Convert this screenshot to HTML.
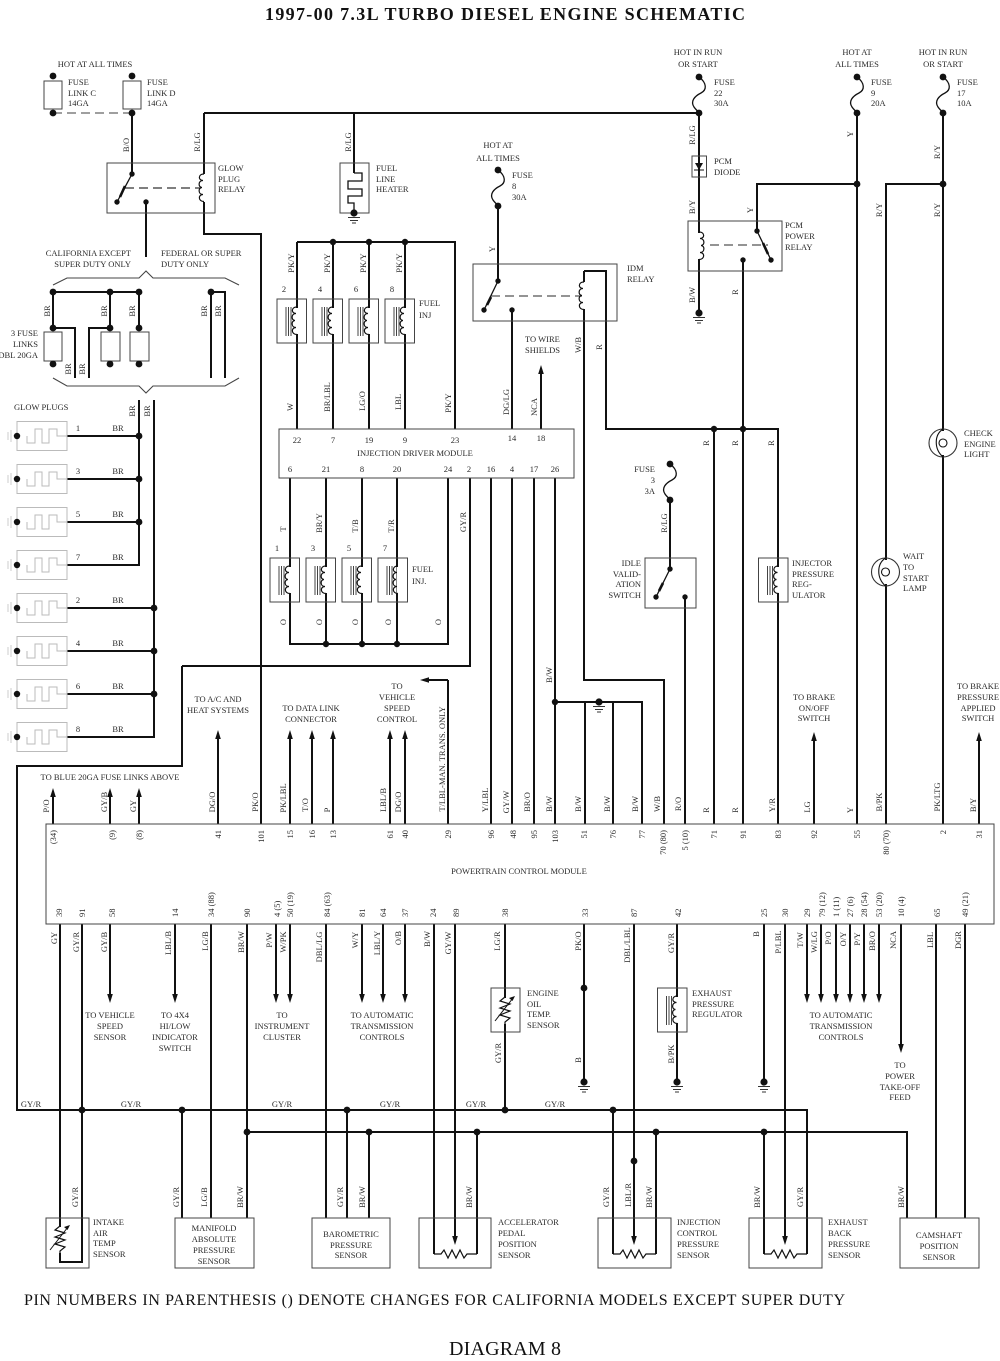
<!DOCTYPE html>
<html><head><meta charset="utf-8"><title>1997-00 7.3L Turbo Diesel Engine Schematic</title>
<style>
html,body{margin:0;padding:0;background:#fff}
svg{display:block}
text{font-family:"Liberation Serif",serif;font-size:8.5px;fill:#2a2a2a}
.c,.v{text-anchor:middle}
.e,.pt{text-anchor:end}
.w{fill:none;stroke:#111;stroke-width:2;stroke-linecap:butt;stroke-linejoin:miter}
.b{fill:none;stroke:#444;stroke-width:1}
.g{fill:none;stroke:#555;stroke-width:1.3}
.f{fill:none;stroke:#111;stroke-width:1.3}
</style></head><body>
<svg xmlns="http://www.w3.org/2000/svg" width="1000" height="1361" viewBox="0 0 1000 1361">
<defs>
<path id="au" d="M0 0l-2.8 9h5.6z" fill="#111"/>
<path id="ad" d="M0 0l-2.8-9h5.6z" fill="#111"/>
<g id="gnd"><circle r="3.6" fill="#111"/><path d="M-6 4.5h12M-4 7.5h8M-2 10h4" stroke="#333" stroke-width="1" fill="none"/></g>
<g id="fuse"><path class="f" d="M0 0C8 6 8 13 2 16C-4 19-9 24-5 30C-3 33-1 34 0 36"/><circle r="3.4" fill="#111"/><circle cy="36" r="3.4" fill="#111"/></g>
<path id="coilp" d="M0 0c-6 0-6 6.5-1 6.5c-5 0-5 7-1 7c-4 0-4 7 1 7c-5 0-5 7 1 7" fill="none" stroke="#111" stroke-width="1.2"/>
<g id="coil"><rect x="-1.5" y="1" width="3" height="26" fill="#fff"/><use href="#coilp"/></g>
<g id="inj"><rect width="29.5" height="44" fill="none" stroke="#444" stroke-width="1"/><path d="M9 8v29M11.5 8v29M14 8v29" stroke="#444" stroke-width="1" fill="none"/><use href="#coil" x="20" y="8"/></g>
<g id="plug"><rect x="17" y="-14.5" width="50" height="29" fill="none" stroke="#bbb" stroke-width="1"/><path d="M27 0v7h8v-14h7v14h7v-14h8v7h10" fill="none" stroke="#bbb" stroke-width="1"/><path d="M8-4v8M11-6v12" stroke="#ccc" stroke-width="1"/><circle cx="17" r="3.2" fill="#111"/></g>
<g id="lamp"><rect x="-2" y="-12" width="4" height="24" fill="#fff"/><circle r="14" fill="none" stroke="#333" stroke-width="1.1"/><path d="M0-14C-9-8-9 6 0 14" fill="none" stroke="#111" stroke-width="1.1"/><circle cx="0" r="4" fill="none" stroke="#111" stroke-width="1.1"/></g>
<path id="res" d="M0 0h7l3-4 4 8 4-8 4 8 4-8 4 8 3-4h10" fill="none" stroke="#111" stroke-width="1.2"/>
<g id="therm"><rect x="-1.5" y="1" width="3" height="26" fill="#fff"/><path d="M0 0l-5 4 10 3-10 4 10 3-10 4 10 3-5 4v3" fill="none" stroke="#111" stroke-width="1.2"/><path d="M-10 24L8 1" stroke="#111" stroke-width="1"/><path d="M10-1l-6 2 3.5 3z" fill="#111"/></g>
</defs>

<!-- wires -->
<path class="w" d="
M132 113V174
M204 113H699
M204 113V174M204 202V234H261V824
M146 202V257
M53 292H139M53 292V328M110 292V328M139 292V328M53 328H75V378M89 378V328H110
M211 292V378M211 292H225V378
M139 400V565H67M154 400V737H67
M67 436H139M67 479H139M67 522H139M67 608H154M67 651H154M67 694H154
M182 666V766H17V1110H807V1254
M182 666H470V478
M354 113V173
M297 242H455V429M297 242V429M333 242V429M369 242V429M405 242V429
M290 478V644H448V478M326 478V644M362 478V644M397 478V644
M491 478V824M512 478V824M534 478V824M555 478V824
M512 310V429M541 373V429
M498 206V281
M584 271V680H664V824
M584 271H606V429H778V824
M714 429V824M743 260V824
M555 702H642V824M585 702V824M613 702V824
M670 500V569M685 597V824
M699 113V315
M857 113V824M757 231V184H857
M943 113V824M943 184H886V824
M53 796V824M110 796V824M139 796V824
M218 738V824M290 738V824M312 738V824M333 738V824M390 738V824M405 738V824
M448 680V824M448 680H428
M814 740V824M979 740V824
M60 924V1218M82 924V1218
M60 1218V1262H82V1218
M110 924V995M175 924V995M276 924V995M290 924V995M362 924V995M383 924V995M405 924V995
M211 924V1218M247 924V1218M326 924V1218
M182 1110V1218M347 1110V1218M369 1132V1218
M434 924V1254M455 924V1238M477 1132V1254
M505 924V1110
M584 924V1082M677 924V1082M764 924V1082
M634 924V1238M613 1110V1254M656 1132V1254
M785 924V1238M764 1132V1254
M807 924V995M821 924V995M836 924V995M850 924V995M864 924V995M879 924V995M901 924V1045
M936 924V1218M965 924V1218
M247 1132H907V1218
"/>

<!-- dashed links -->
<path d="M53 113H132" stroke="#666" stroke-width="1.3" stroke-dasharray="9 5" fill="none"/>
<path d="M125 188H200" stroke="#333" stroke-width="1.2" stroke-dasharray="9 5" fill="none"/>
<path d="M491 296H582" stroke="#555" stroke-width="1.3" stroke-dasharray="9 5" fill="none"/>
<path d="M710 245H768" stroke="#555" stroke-width="1.3" stroke-dasharray="9 5" fill="none"/>

<!-- boxes -->
<rect class="b" x="44" y="81" width="18" height="28"/><rect class="b" x="123" y="81" width="18" height="28"/>
<rect class="b" x="44" y="332" width="18" height="29"/><rect class="b" x="101" y="332" width="19" height="29"/><rect class="b" x="130" y="332" width="19" height="29"/>
<rect class="b" x="107" y="163" width="108" height="50"/>
<rect class="b" x="340" y="163" width="29" height="50"/>
<rect class="b" x="473" y="264" width="144" height="57"/>
<rect class="b" x="692" y="156" width="14.5" height="21"/>
<rect class="b" x="688" y="221" width="94" height="50"/>
<rect class="b" x="279" y="429" width="295" height="49" fill="none"/>
<rect class="b" x="645" y="558" width="51" height="50"/>
<rect class="b" x="46" y="824" width="948" height="100"/>
<rect class="b" x="491" y="988" width="29" height="44"/>
<rect class="b" x="46" y="1218" width="43" height="50"/>
<rect class="b" x="175" y="1218" width="79" height="50"/>
<rect class="b" x="312" y="1218" width="78" height="50"/>
<rect class="b" x="419" y="1218" width="72" height="50"/>
<rect class="b" x="598" y="1218" width="73" height="50"/>
<rect class="b" x="749" y="1218" width="73" height="50"/>
<rect class="b" x="900" y="1218" width="79" height="50"/>

<!-- brackets -->
<path d="M53 285L67 278H139L146 271L153 278H225L239 285" fill="none" stroke="#444" stroke-width="1.1"/>
<path d="M53 378L67 386H139L146 393L153 386H225L239 378" fill="none" stroke="#444" stroke-width="1.1"/>

<!-- heater -->
<path d="M354 173h8v8h-14v8h14v7h-14v7h6v10" fill="none" stroke="#111" stroke-width="1.3"/>

<!-- relay switch arms -->
<path class="f" d="M132 174L117 202"/><path class="f" d="M498 281L484 310"/><path class="f" d="M757 231L771 260"/><path class="f" d="M670 569L656 597"/>
<path d="M125 186L120 197M491 297L487 305M763 243L768 254M663 583L659 591" stroke="#111" stroke-width="2.6" fill="none"/>

<!-- coils -->
<use href="#coil" x="204" y="174"/>
<rect x="582" y="282" width="4" height="27" fill="#fff"/><use href="#coilp" x="584" y="282"/>
<g transform="translate(699 232) scale(-1 1)"><use href="#coil"/></g>

<!-- diode -->
<path d="M695 163h8l-4 7z" fill="#111"/><path d="M694 170h10" stroke="#111" stroke-width="1"/>

<!-- injectors -->
<use href="#inj" x="277" y="299"/><use href="#inj" x="313" y="299"/><use href="#inj" x="349" y="299"/><use href="#inj" x="385" y="299"/>
<use href="#inj" x="270" y="558"/><use href="#inj" x="306" y="558"/><use href="#inj" x="342" y="558"/><use href="#inj" x="378" y="558"/>
<use href="#inj" x="758.500" y="558"/><use href="#inj" x="657.500" y="988"/>

<!-- glow plugs -->
<use href="#plug" y="436"/><use href="#plug" y="479"/><use href="#plug" y="522"/><use href="#plug" y="565"/><use href="#plug" y="608"/><use href="#plug" y="651"/><use href="#plug" y="694"/><use href="#plug" y="737"/>

<!-- fuses -->
<use href="#fuse" x="498" y="170"/><use href="#fuse" x="699" y="77"/><use href="#fuse" x="857" y="77"/><use href="#fuse" x="943" y="77"/><use href="#fuse" x="670" y="464"/>

<!-- lamps -->
<use href="#lamp" x="943" y="443"/><use href="#lamp" x="885.500" y="572"/>

<!-- thermistors / resistors -->
<use href="#therm" x="505" y="997"/><use href="#therm" x="60" y="1226"/>
<use href="#res" x="434" y="1254"/><use href="#res" x="613" y="1254"/><use href="#res" x="764" y="1254"/>

<!-- grounds -->
<use href="#gnd" x="354" y="213"/><use href="#gnd" x="699" y="313"/><use href="#gnd" x="599" y="702"/><use href="#gnd" x="584" y="1082"/><use href="#gnd" x="677" y="1082"/><use href="#gnd" x="764" y="1082"/>

<!-- arrows -->
<use href="#au" x="53" y="788"/><use href="#au" x="110" y="788"/><use href="#au" x="139" y="788"/>
<use href="#au" x="218" y="730"/><use href="#au" x="290" y="730"/><use href="#au" x="312" y="730"/><use href="#au" x="333" y="730"/><use href="#au" x="390" y="730"/><use href="#au" x="405" y="730"/>
<use href="#au" x="814" y="732"/><use href="#au" x="979" y="732"/><use href="#au" x="541" y="365"/>
<path d="M420 680l9-2.800v5.600z" fill="#111"/>
<use href="#ad" x="110" y="1003"/><use href="#ad" x="175" y="1003"/><use href="#ad" x="276" y="1003"/><use href="#ad" x="290" y="1003"/><use href="#ad" x="362" y="1003"/><use href="#ad" x="383" y="1003"/><use href="#ad" x="405" y="1003"/>
<use href="#ad" x="807" y="1003"/><use href="#ad" x="821" y="1003"/><use href="#ad" x="836" y="1003"/><use href="#ad" x="850" y="1003"/><use href="#ad" x="864" y="1003"/><use href="#ad" x="879" y="1003"/><use href="#ad" x="901" y="1053"/>
<use href="#ad" x="455" y="1245"/><use href="#ad" x="634" y="1245"/><use href="#ad" x="785" y="1245"/>

<!-- dots -->
<g fill="#111">
<circle cx="53" cy="76" r="3.4"/><circle cx="132" cy="76" r="3.4"/><circle cx="53" cy="113" r="3.4"/><circle cx="132" cy="113" r="3.4"/>
<circle cx="132" cy="174" r="2.7"/><circle cx="117" cy="202" r="2.7"/><circle cx="146" cy="202" r="2.7"/>
<circle cx="53" cy="292" r="3.4"/><circle cx="110" cy="292" r="3.4"/><circle cx="139" cy="292" r="3.4"/><circle cx="211" cy="292" r="3.4"/>
<circle cx="53" cy="328" r="3.4"/><circle cx="110" cy="328" r="3.4"/><circle cx="139" cy="328" r="3.4"/>
<circle cx="53" cy="364" r="3.4"/><circle cx="110" cy="364" r="3.4"/><circle cx="139" cy="364" r="3.4"/>
<circle cx="139" cy="436" r="3.4"/><circle cx="139" cy="479" r="3.4"/><circle cx="139" cy="522" r="3.4"/>
<circle cx="154" cy="608" r="3.4"/><circle cx="154" cy="651" r="3.4"/><circle cx="154" cy="694" r="3.4"/>
<circle cx="333" cy="242" r="3.2"/><circle cx="369" cy="242" r="3.2"/><circle cx="405" cy="242" r="3.2"/>
<circle cx="326" cy="644" r="3.2"/><circle cx="362" cy="644" r="3.2"/><circle cx="397" cy="644" r="3.2"/>
<circle cx="498" cy="281" r="2.7"/><circle cx="484" cy="310" r="2.7"/><circle cx="512" cy="310" r="2.7"/>
<circle cx="757" cy="231" r="2.7"/><circle cx="771" cy="260" r="2.7"/><circle cx="743" cy="260" r="2.7"/>
<circle cx="857" cy="184" r="3.4"/><circle cx="943" cy="184" r="3.4"/>
<circle cx="714" cy="429" r="3.2"/><circle cx="743" cy="429" r="3.2"/>
<circle cx="670" cy="569" r="2.7"/><circle cx="656" cy="597" r="2.7"/><circle cx="685" cy="597" r="2.7"/>
<circle cx="555" cy="702" r="3.2"/>
<circle cx="584" cy="988" r="3.4"/>
<circle cx="82" cy="1110" r="3.4"/><circle cx="182" cy="1110" r="3.4"/><circle cx="347" cy="1110" r="3.4"/><circle cx="505" cy="1110" r="3.4"/><circle cx="613" cy="1110" r="3.4"/>
<circle cx="247" cy="1132" r="3.4"/><circle cx="369" cy="1132" r="3.4"/><circle cx="477" cy="1132" r="3.4"/><circle cx="656" cy="1132" r="3.4"/><circle cx="764" cy="1132" r="3.4"/>
<circle cx="634" cy="1161" r="3.4"/>
</g>

<!-- headings -->
<text x="505" y="20" class="c" style="font-size:18px;font-weight:bold;fill:#111" textLength="480">1997-00 7.3L TURBO DIESEL ENGINE SCHEMATIC</text>
<text x="24" y="1305" style="font-size:16px;fill:#111" textLength="821">PIN NUMBERS IN PARENTHESIS () DENOTE CHANGES FOR CALIFORNIA MODELS EXCEPT SUPER DUTY</text>
<text x="449" y="1355" style="font-size:20px;fill:#111" textLength="112">DIAGRAM 8</text>

<!-- horizontal labels -->
<text x="95" y="67" class="c">HOT AT ALL TIMES</text>
<text x="68" y="85">FUSE</text><text x="68" y="96">LINK C</text><text x="68" y="106">14GA</text>
<text x="147" y="85">FUSE</text><text x="147" y="96">LINK D</text><text x="147" y="106">14GA</text>
<text x="218" y="171">GLOW</text><text x="218" y="182">PLUG</text><text x="218" y="192">RELAY</text>
<text x="376" y="171">FUEL</text><text x="376" y="182">LINE</text><text x="376" y="192">HEATER</text>
<text x="498" y="148" class="c">HOT AT</text><text x="498" y="161" class="c">ALL TIMES</text>
<text x="512" y="178">FUSE</text><text x="512" y="189">8</text><text x="512" y="200">30A</text>
<text x="627" y="271">IDM</text><text x="627" y="282">RELAY</text>
<text x="131" y="256" class="e">CALIFORNIA EXCEPT</text><text x="131" y="267" class="e">SUPER DUTY ONLY</text>
<text x="161" y="256">FEDERAL OR SUPER</text><text x="161" y="267">DUTY ONLY</text>
<text x="38" y="336" class="e">3 FUSE</text><text x="38" y="347" class="e">LINKS</text><text x="38" y="358" class="e">DBL 20GA</text>
<text x="14" y="410">GLOW PLUGS</text>
<text x="78" y="431" class="c">1</text><text x="78" y="474" class="c">3</text><text x="78" y="517" class="c">5</text><text x="78" y="560" class="c">7</text><text x="78" y="603" class="c">2</text><text x="78" y="646" class="c">4</text><text x="78" y="689" class="c">6</text><text x="78" y="732" class="c">8</text>
<text x="118" y="431" class="c">BR</text><text x="118" y="474" class="c">BR</text><text x="118" y="517" class="c">BR</text><text x="118" y="560" class="c">BR</text><text x="118" y="603" class="c">BR</text><text x="118" y="646" class="c">BR</text><text x="118" y="689" class="c">BR</text><text x="118" y="732" class="c">BR</text>
<text x="284" y="292" class="c">2</text><text x="320" y="292" class="c">4</text><text x="356" y="292" class="c">6</text><text x="392" y="292" class="c">8</text>
<text x="277" y="551" class="c">1</text><text x="313" y="551" class="c">3</text><text x="349" y="551" class="c">5</text><text x="385" y="551" class="c">7</text>
<text x="419" y="306">FUEL</text><text x="419" y="318">INJ</text>
<text x="412" y="572">FUEL</text><text x="412" y="584">INJ.</text>
<text x="525" y="342">TO WIRE</text><text x="525" y="353">SHIELDS</text>
<text x="415" y="456" class="c">INJECTION DRIVER MODULE</text>
<text x="297" y="443" class="c">22</text><text x="333" y="443" class="c">7</text><text x="369" y="443" class="c">19</text><text x="405" y="443" class="c">9</text><text x="455" y="443" class="c">23</text><text x="512" y="441" class="c">14</text><text x="541" y="441" class="c">18</text>
<text x="290" y="472" class="c">6</text><text x="326" y="472" class="c">21</text><text x="362" y="472" class="c">8</text><text x="397" y="472" class="c">20</text><text x="448" y="472" class="c">24</text><text x="469" y="472" class="c">2</text><text x="491" y="472" class="c">16</text><text x="512" y="472" class="c">4</text><text x="534" y="472" class="c">17</text><text x="555" y="472" class="c">26</text>
<text x="698" y="55" class="c">HOT IN RUN</text><text x="698" y="67" class="c">OR START</text>
<text x="857" y="55" class="c">HOT AT</text><text x="857" y="67" class="c">ALL TIMES</text>
<text x="943" y="55" class="c">HOT IN RUN</text><text x="943" y="67" class="c">OR START</text>
<text x="714" y="85">FUSE</text><text x="714" y="96">22</text><text x="714" y="106">30A</text>
<text x="871" y="85">FUSE</text><text x="871" y="96">9</text><text x="871" y="106">20A</text>
<text x="957" y="85">FUSE</text><text x="957" y="96">17</text><text x="957" y="106">10A</text>
<text x="714" y="164">PCM</text><text x="714" y="175">DIODE</text>
<text x="785" y="228">PCM</text><text x="785" y="239">POWER</text><text x="785" y="250">RELAY</text>
<text x="964" y="436">CHECK</text><text x="964" y="447">ENGINE</text><text x="964" y="457">LIGHT</text>
<text x="655" y="472" class="e">FUSE</text><text x="655" y="483" class="e">3</text><text x="655" y="494" class="e">3A</text>
<text x="641" y="566" class="e">IDLE</text><text x="641" y="577" class="e">VALID-</text><text x="641" y="587" class="e">ATION</text><text x="641" y="598" class="e">SWITCH</text>
<text x="792" y="566">INJECTOR</text><text x="792" y="577">PRESSURE</text><text x="792" y="587">REG-</text><text x="792" y="598">ULATOR</text>
<text x="903" y="559">WAIT</text><text x="903" y="570">TO</text><text x="903" y="581">START</text><text x="903" y="591">LAMP</text>
<text x="218" y="702" class="c">TO A/C AND</text><text x="218" y="713" class="c">HEAT SYSTEMS</text>
<text x="311" y="711" class="c">TO DATA LINK</text><text x="311" y="722" class="c">CONNECTOR</text>
<text x="397" y="689" class="c">TO</text><text x="397" y="700" class="c">VEHICLE</text><text x="397" y="711" class="c">SPEED</text><text x="397" y="722" class="c">CONTROL</text>
<text x="110" y="780" class="c">TO BLUE 20GA FUSE LINKS ABOVE</text>
<text x="814" y="700" class="c">TO BRAKE</text><text x="814" y="711" class="c">ON/OFF</text><text x="814" y="721" class="c">SWITCH</text>
<text x="978" y="689" class="c">TO BRAKE</text><text x="978" y="700" class="c">PRESSURE</text><text x="978" y="711" class="c">APPLIED</text><text x="978" y="721" class="c">SWITCH</text>
<text x="519" y="874" class="c">POWERTRAIN CONTROL MODULE</text>
<text x="110" y="1018" class="c">TO VEHICLE</text><text x="110" y="1029" class="c">SPEED</text><text x="110" y="1040" class="c">SENSOR</text>
<text x="175" y="1018" class="c">TO 4X4</text><text x="175" y="1029" class="c">HI/LOW</text><text x="175" y="1040" class="c">INDICATOR</text><text x="175" y="1051" class="c">SWITCH</text>
<text x="282" y="1018" class="c">TO</text><text x="282" y="1029" class="c">INSTRUMENT</text><text x="282" y="1040" class="c">CLUSTER</text>
<text x="382" y="1018" class="c">TO AUTOMATIC</text><text x="382" y="1029" class="c">TRANSMISSION</text><text x="382" y="1040" class="c">CONTROLS</text>
<text x="527" y="996">ENGINE</text><text x="527" y="1007">OIL</text><text x="527" y="1017">TEMP.</text><text x="527" y="1028">SENSOR</text>
<text x="692" y="996">EXHAUST</text><text x="692" y="1007">PRESSURE</text><text x="692" y="1017">REGULATOR</text>
<text x="841" y="1018" class="c">TO AUTOMATIC</text><text x="841" y="1029" class="c">TRANSMISSION</text><text x="841" y="1040" class="c">CONTROLS</text>
<text x="900" y="1068" class="c">TO</text><text x="900" y="1079" class="c">POWER</text><text x="900" y="1090" class="c">TAKE-OFF</text><text x="900" y="1100" class="c">FEED</text>
<text x="31" y="1107" class="c">GY/R</text><text x="131" y="1107" class="c">GY/R</text><text x="282" y="1107" class="c">GY/R</text><text x="390" y="1107" class="c">GY/R</text><text x="476" y="1107" class="c">GY/R</text><text x="555" y="1107" class="c">GY/R</text>
<text x="93" y="1225">INTAKE</text><text x="93" y="1236">AIR</text><text x="93" y="1246">TEMP</text><text x="93" y="1257">SENSOR</text>
<text x="214" y="1231" class="c">MANIFOLD</text><text x="214" y="1242" class="c">ABSOLUTE</text><text x="214" y="1253" class="c">PRESSURE</text><text x="214" y="1264" class="c">SENSOR</text>
<text x="351" y="1237" class="c">BAROMETRIC</text><text x="351" y="1248" class="c">PRESSURE</text><text x="351" y="1258" class="c">SENSOR</text>
<text x="498" y="1225">ACCELERATOR</text><text x="498" y="1236">PEDAL</text><text x="498" y="1247">POSITION</text><text x="498" y="1258">SENSOR</text>
<text x="677" y="1225">INJECTION</text><text x="677" y="1236">CONTROL</text><text x="677" y="1247">PRESSURE</text><text x="677" y="1258">SENSOR</text>
<text x="828" y="1225">EXHAUST</text><text x="828" y="1236">BACK</text><text x="828" y="1247">PRESSURE</text><text x="828" y="1258">SENSOR</text>
<text x="939" y="1238" class="c">CAMSHAFT</text><text x="939" y="1249" class="c">POSITION</text><text x="939" y="1260" class="c">SENSOR</text>

<!-- rotated wire colour labels -->
<text class="v" transform="translate(129 145)rotate(-90)">B/O</text>
<text class="v" transform="translate(200 142)rotate(-90)">R/LG</text>
<text class="v" transform="translate(351 142)rotate(-90)">R/LG</text>
<text class="v" transform="translate(50 311)rotate(-90)">BR</text>
<text class="v" transform="translate(107 311)rotate(-90)">BR</text>
<text class="v" transform="translate(135 311)rotate(-90)">BR</text>
<text class="v" transform="translate(207 311)rotate(-90)">BR</text>
<text class="v" transform="translate(221 311)rotate(-90)">BR</text>
<text class="v" transform="translate(71 369)rotate(-90)">BR</text>
<text class="v" transform="translate(85 369)rotate(-90)">BR</text>
<text class="v" transform="translate(135 411)rotate(-90)">BR</text>
<text class="v" transform="translate(150 411)rotate(-90)">BR</text>
<text class="v" transform="translate(294 263)rotate(-90)">PK/Y</text>
<text class="v" transform="translate(330 263)rotate(-90)">PK/Y</text>
<text class="v" transform="translate(366 263)rotate(-90)">PK/Y</text>
<text class="v" transform="translate(402 263)rotate(-90)">PK/Y</text>
<text class="v" transform="translate(293 407)rotate(-90)">W</text>
<text class="v" transform="translate(330 397)rotate(-90)">BR/LBL</text>
<text class="v" transform="translate(365 401)rotate(-90)">LG/O</text>
<text class="v" transform="translate(401 402)rotate(-90)">LBL</text>
<text class="v" transform="translate(451 403)rotate(-90)">PK/Y</text>
<text class="v" transform="translate(509 402)rotate(-90)">DG/LG</text>
<text class="v" transform="translate(537 407)rotate(-90)">NCA</text>
<text class="v" transform="translate(581 345)rotate(-90)">W/B</text>
<text class="v" transform="translate(602 347)rotate(-90)">R</text>
<text class="v" transform="translate(495 249)rotate(-90)">Y</text>
<text class="v" transform="translate(286 529)rotate(-90)">T</text>
<text class="v" transform="translate(322 523)rotate(-90)">BR/Y</text>
<text class="v" transform="translate(358 526)rotate(-90)">T/B</text>
<text class="v" transform="translate(394 526)rotate(-90)">T/R</text>
<text class="v" transform="translate(466 522)rotate(-90)">GY/R</text>
<text class="v" transform="translate(286 622)rotate(-90)">O</text>
<text class="v" transform="translate(322 622)rotate(-90)">O</text>
<text class="v" transform="translate(358 622)rotate(-90)">O</text>
<text class="v" transform="translate(391 622)rotate(-90)">O</text>
<text class="v" transform="translate(441 622)rotate(-90)">O</text>
<text class="v" transform="translate(695 135)rotate(-90)">R/LG</text>
<text class="v" transform="translate(695 207)rotate(-90)">B/Y</text>
<text class="v" transform="translate(695 295)rotate(-90)">B/W</text>
<text class="v" transform="translate(753 210)rotate(-90)">Y</text>
<text class="v" transform="translate(738 292)rotate(-90)">R</text>
<text class="v" transform="translate(853 134)rotate(-90)">Y</text>
<text class="v" transform="translate(940 152)rotate(-90)">R/Y</text>
<text class="v" transform="translate(882 210)rotate(-90)">R/Y</text>
<text class="v" transform="translate(940 210)rotate(-90)">R/Y</text>
<text class="v" transform="translate(667 523)rotate(-90)">R/LG</text>
<text class="v" transform="translate(709 443)rotate(-90)">R</text>
<text class="v" transform="translate(738 443)rotate(-90)">R</text>
<text class="v" transform="translate(774 443)rotate(-90)">R</text>
<text class="v" transform="translate(552 675)rotate(-90)">B/W</text>
<text class="v" transform="translate(49 806)rotate(-90)">P/O</text>
<text class="v" transform="translate(107 802)rotate(-90)">GY/B</text>
<text class="v" transform="translate(136 806)rotate(-90)">GY</text>
<text class="v" transform="translate(215 802)rotate(-90)">DG/O</text>
<text class="v" transform="translate(258 802)rotate(-90)">PK/O</text>
<text class="v" transform="translate(286 798)rotate(-90)">PK/LBL</text>
<text class="v" transform="translate(308 805)rotate(-90)">T/O</text>
<text class="v" transform="translate(330 810)rotate(-90)">P</text>
<text class="v" transform="translate(386 800)rotate(-90)">LBL/B</text>
<text class="v" transform="translate(401 802)rotate(-90)">DG/O</text>
<text class="v" transform="translate(445 759)rotate(-90)">T/LBL-MAN. TRANS. ONLY</text>
<text class="v" transform="translate(488 800)rotate(-90)">Y/LBL</text>
<text class="v" transform="translate(509 802)rotate(-90)">GY/W</text>
<text class="v" transform="translate(530 802)rotate(-90)">BR/O</text>
<text class="v" transform="translate(552 804)rotate(-90)">B/W</text>
<text class="v" transform="translate(581 804)rotate(-90)">B/W</text>
<text class="v" transform="translate(610 804)rotate(-90)">B/W</text>
<text class="v" transform="translate(638 804)rotate(-90)">B/W</text>
<text class="v" transform="translate(660 804)rotate(-90)">W/B</text>
<text class="v" transform="translate(681 804)rotate(-90)">R/O</text>
<text class="v" transform="translate(709 810)rotate(-90)">R</text>
<text class="v" transform="translate(738 810)rotate(-90)">R</text>
<text class="v" transform="translate(775 805)rotate(-90)">Y/R</text>
<text class="v" transform="translate(810 807)rotate(-90)">LG</text>
<text class="v" transform="translate(853 810)rotate(-90)">Y</text>
<text class="v" transform="translate(882 802)rotate(-90)">B/PK</text>
<text class="v" transform="translate(940 797)rotate(-90)">PK/LTG</text>
<text class="v" transform="translate(976 805)rotate(-90)">B/Y</text>
<!-- below PCM -->
<text class="v" transform="translate(57 938)rotate(-90)">GY</text>
<text class="v" transform="translate(79 942)rotate(-90)">GY/R</text>
<text class="v" transform="translate(107 942)rotate(-90)">GY/B</text>
<text class="v" transform="translate(171 943)rotate(-90)">LBL/B</text>
<text class="v" transform="translate(208 941)rotate(-90)">LG/B</text>
<text class="v" transform="translate(244 942)rotate(-90)">BR/W</text>
<text class="v" transform="translate(272 940)rotate(-90)">P/W</text>
<text class="v" transform="translate(286 942)rotate(-90)">W/PK</text>
<text class="v" transform="translate(322 947)rotate(-90)">DBL/LG</text>
<text class="v" transform="translate(358 940)rotate(-90)">W/Y</text>
<text class="v" transform="translate(380 943)rotate(-90)">LBL/Y</text>
<text class="v" transform="translate(401 938)rotate(-90)">O/B</text>
<text class="v" transform="translate(430 939)rotate(-90)">B/W</text>
<text class="v" transform="translate(451 943)rotate(-90)">GY/W</text>
<text class="v" transform="translate(500 941)rotate(-90)">LG/R</text>
<text class="v" transform="translate(581 941)rotate(-90)">PK/O</text>
<text class="v" transform="translate(630 945)rotate(-90)">DBL/LBL</text>
<text class="v" transform="translate(674 943)rotate(-90)">GY/R</text>
<text class="v" transform="translate(759 934)rotate(-90)">B</text>
<text class="v" transform="translate(781 942)rotate(-90)">P/LBL</text>
<text class="v" transform="translate(803 940)rotate(-90)">T/W</text>
<text class="v" transform="translate(817 942)rotate(-90)">W/LG</text>
<text class="v" transform="translate(831 938)rotate(-90)">P/O</text>
<text class="v" transform="translate(846 939)rotate(-90)">O/Y</text>
<text class="v" transform="translate(860 939)rotate(-90)">P/Y</text>
<text class="v" transform="translate(875 941)rotate(-90)">BR/O</text>
<text class="v" transform="translate(896 940)rotate(-90)">NCA</text>
<text class="v" transform="translate(933 940)rotate(-90)">LBL</text>
<text class="v" transform="translate(961 940)rotate(-90)">DGR</text>
<text class="v" transform="translate(501 1053)rotate(-90)">GY/R</text>
<text class="v" transform="translate(581 1060)rotate(-90)">B</text>
<text class="v" transform="translate(674 1054)rotate(-90)">B/PK</text>
<!-- sensors -->
<text class="v" transform="translate(78 1197)rotate(-90)">GY/R</text>
<text class="v" transform="translate(179 1197)rotate(-90)">GY/R</text>
<text class="v" transform="translate(207 1197)rotate(-90)">LG/B</text>
<text class="v" transform="translate(243 1197)rotate(-90)">BR/W</text>
<text class="v" transform="translate(343 1197)rotate(-90)">GY/R</text>
<text class="v" transform="translate(365 1197)rotate(-90)">BR/W</text>
<text class="v" transform="translate(472 1197)rotate(-90)">BR/W</text>
<text class="v" transform="translate(609 1197)rotate(-90)">GY/R</text>
<text class="v" transform="translate(631 1195)rotate(-90)">LBL/R</text>
<text class="v" transform="translate(652 1197)rotate(-90)">BR/W</text>
<text class="v" transform="translate(760 1197)rotate(-90)">BR/W</text>
<text class="v" transform="translate(803 1197)rotate(-90)">GY/R</text>
<text class="v" transform="translate(904 1197)rotate(-90)">BR/W</text>

<!-- PCM top pin numbers -->
<g>
<text class="pt" transform="translate(56 830)rotate(-90)">(34)</text>
<text class="pt" transform="translate(115 830)rotate(-90)">(9)</text>
<text class="pt" transform="translate(142 830)rotate(-90)">(8)</text>
<text class="pt" transform="translate(221 830)rotate(-90)">41</text>
<text class="pt" transform="translate(264 830)rotate(-90)">101</text>
<text class="pt" transform="translate(293 830)rotate(-90)">15</text>
<text class="pt" transform="translate(315 830)rotate(-90)">16</text>
<text class="pt" transform="translate(336 830)rotate(-90)">13</text>
<text class="pt" transform="translate(393 830)rotate(-90)">61</text>
<text class="pt" transform="translate(408 830)rotate(-90)">40</text>
<text class="pt" transform="translate(451 830)rotate(-90)">29</text>
<text class="pt" transform="translate(494 830)rotate(-90)">96</text>
<text class="pt" transform="translate(516 830)rotate(-90)">48</text>
<text class="pt" transform="translate(537 830)rotate(-90)">95</text>
<text class="pt" transform="translate(558 830)rotate(-90)">103</text>
<text class="pt" transform="translate(587 830)rotate(-90)">51</text>
<text class="pt" transform="translate(616 830)rotate(-90)">76</text>
<text class="pt" transform="translate(645 830)rotate(-90)">77</text>
<text class="pt" transform="translate(666 830)rotate(-90)">70 (80)</text>
<text class="pt" transform="translate(688 830)rotate(-90)">5 (10)</text>
<text class="pt" transform="translate(717 830)rotate(-90)">71</text>
<text class="pt" transform="translate(746 830)rotate(-90)">91</text>
<text class="pt" transform="translate(781 830)rotate(-90)">83</text>
<text class="pt" transform="translate(817 830)rotate(-90)">92</text>
<text class="pt" transform="translate(860 830)rotate(-90)">55</text>
<text class="pt" transform="translate(889 830)rotate(-90)">80 (70)</text>
<text class="pt" transform="translate(946 830)rotate(-90)">2</text>
<text class="pt" transform="translate(982 830)rotate(-90)">31</text>
</g>
<!-- PCM bottom pin numbers -->
<g>
<text transform="translate(62 917)rotate(-90)">39</text>
<text transform="translate(85 917)rotate(-90)">91</text>
<text transform="translate(115 917)rotate(-90)">58</text>
<text transform="translate(178 917)rotate(-90)">14</text>
<text transform="translate(214 917)rotate(-90)">34 (88)</text>
<text transform="translate(250 917)rotate(-90)">90</text>
<text transform="translate(280 917)rotate(-90)">4 (5)</text>
<text transform="translate(293 917)rotate(-90)">50 (19)</text>
<text transform="translate(330 917)rotate(-90)">84 (63)</text>
<text transform="translate(365 917)rotate(-90)">81</text>
<text transform="translate(386 917)rotate(-90)">64</text>
<text transform="translate(408 917)rotate(-90)">37</text>
<text transform="translate(436 917)rotate(-90)">24</text>
<text transform="translate(459 917)rotate(-90)">89</text>
<text transform="translate(508 917)rotate(-90)">38</text>
<text transform="translate(588 917)rotate(-90)">33</text>
<text transform="translate(637 917)rotate(-90)">87</text>
<text transform="translate(681 917)rotate(-90)">42</text>
<text transform="translate(767 917)rotate(-90)">25</text>
<text transform="translate(788 917)rotate(-90)">30</text>
<text transform="translate(810 917)rotate(-90)">29</text>
<text transform="translate(825 917)rotate(-90)">79 (12)</text>
<text transform="translate(839 917)rotate(-90)">1 (11)</text>
<text transform="translate(853 917)rotate(-90)">27 (6)</text>
<text transform="translate(867 917)rotate(-90)">28 (54)</text>
<text transform="translate(882 917)rotate(-90)">53 (20)</text>
<text transform="translate(904 917)rotate(-90)">10 (4)</text>
<text transform="translate(940 917)rotate(-90)">65</text>
<text transform="translate(968 917)rotate(-90)">49 (21)</text>
</g>
</svg>
</body></html>
